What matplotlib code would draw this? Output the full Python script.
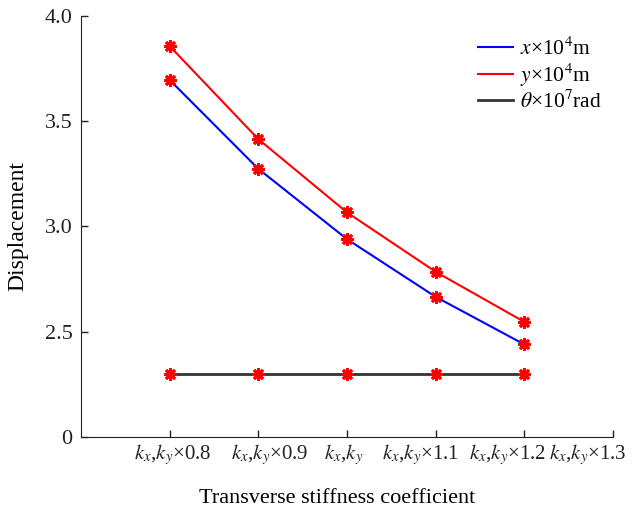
import matplotlib.pyplot as plt
import matplotlib.transforms as mtransforms
import numpy as np

plt.rcParams['font.family'] = ['Liberation Serif', 'DejaVu Serif']
plt.rcParams['mathtext.fontset'] = 'stix'

# 数据（y轴为断轴：0 对应绘图坐标 2.0）
tick_labels = [r'$k_x$,$k_y$×0.8', r'$k_x$,$k_y$×0.9', r'$k_x$,$k_y$',
               r'$k_x$,$k_y$×1.1', r'$k_x$,$k_y$×1.2', r'$k_x$,$k_y$×1.3']
x_pos = [1, 2, 3, 4, 5]
x_disp = [3.695, 3.273, 2.939, 2.665, 2.439]
y_disp = [3.856, 3.414, 3.066, 2.784, 2.546]
theta_disp = [2.30, 2.30, 2.30, 2.30, 2.30]
y_ticks = [2.0, 2.5, 3.0, 3.5, 4.0]
y_tick_labels = ['0', '2.5', '3.0', '3.5', '4.0']

fig = plt.figure(figsize=(6.32, 5.14), dpi=100)
ax = fig.add_axes([0.128, 0.150, 0.842, 0.8195])

ax.plot(x_pos, x_disp, color='blue', lw=1.5, label=r'$x$×10$^4$m')
ax.plot(x_pos, y_disp, color='red', lw=1.5, label=r'$y$×10$^4$m')
ax.plot(x_pos, theta_disp, color='#333333', lw=2, label=r'$\theta$×10$^7$rad')
for s in [x_disp, y_disp, theta_disp]:
    ax.plot(x_pos, s, linestyle='none', marker=(8, 2, 0), markersize=9,
            markeredgewidth=2, color='red')

ax.set_xlim(0, 6)
ax.set_ylim(2.0, 4.0)
ax.set_xticks(range(1, 7))
ax.set_xticklabels(tick_labels, fontsize=15)
ax.set_yticks(y_ticks)
ax.set_yticklabels(y_tick_labels, fontsize=16)
ax.tick_params(direction='in', length=5, width=1, colors='#222222')
ax.tick_params(axis='y', pad=6)
ax.spines['top'].set_visible(False)
ax.spines['right'].set_visible(False)
for sp in ['left', 'bottom']:
    ax.spines[sp].set_color('#222222')

# 标签位置微调（像素）
offsets = [3, 11, -3, -15, -17, -25]
for lab, dx in zip(ax.get_xticklabels(), offsets):
    lab.set_transform(lab.get_transform() +
                      mtransforms.ScaledTranslation(dx / 100, 0, fig.dpi_scale_trans))

ax.set_xlabel('Transverse stiffness coefficient', fontsize=16, labelpad=16)
ax.xaxis.label.set_x(0.481)
ax.set_ylabel('Displacement', fontsize=17, labelpad=12)

ax.legend(loc='upper left', bbox_to_anchor=(0.756, 0.927),
          bbox_transform=fig.transFigure, frameon=False, borderpad=0,
          borderaxespad=0, fontsize=15.5, handlelength=1.63,
          handletextpad=0.33, labelspacing=0.06)

plt.savefig('out.png', dpi=100)
